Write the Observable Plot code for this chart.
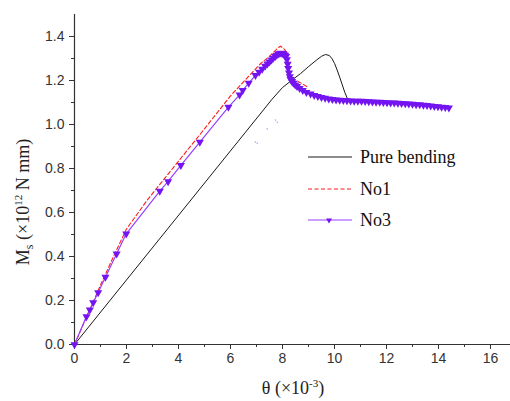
<!DOCTYPE html>
<html>
<head>
<meta charset="utf-8">
<script src="https://cdn.jsdelivr.net/npm/d3@7"></script>
<script src="https://cdn.jsdelivr.net/npm/@observablehq/plot@0.6"></script>
<style>
  html, body { margin: 0; padding: 0; background: #fff; }
  #chart svg { display: block; }
  #chart svg text.serif { font-family: "Liberation Serif", "Times New Roman", serif !important; }
</style>
</head>
<body>
<div id="chart"></div>
<script>
// ---- Data ----
const seriesNames = ["Pure bending", "No1", "No3"];

const pureTheta = [0, 7.6, 8.0, 8.4, 8.7, 9.0, 9.3, 9.5, 9.65, 9.8, 9.9, 10.0, 10.1, 10.2, 10.3, 10.4, 10.5, 10.7];
const pureM     = [0, 1.115, 1.168, 1.205, 1.232, 1.263, 1.292, 1.31, 1.318, 1.314, 1.3, 1.278, 1.248, 1.215, 1.18, 1.145, 1.117, 1.108];

const no1Theta = [0, 0.5, 1.0, 1.5, 2.0, 2.79, 3.5, 4.85, 6.0, 7.15, 7.5, 7.8, 7.92, 8.05, 8.15, 8.2, 8.25, 8.31, 8.4, 8.5, 8.76, 9.0];
const no1M     = [0, 0.135, 0.27, 0.4, 0.525, 0.655, 0.76, 0.958, 1.13, 1.276, 1.31, 1.345, 1.356, 1.345, 1.33, 1.3, 1.24, 1.207, 1.204, 1.203, 1.185, 1.168];

const no3Theta = [0, 0.46, 0.59, 0.72, 0.91, 1.19, 1.62, 1.99, 3.28, 3.6, 4.09, 4.82, 5.92,
  6.35, 6.47, 6.7, 6.96, 7.1, 7.22, 7.33, 7.42, 7.5, 7.58, 7.65, 7.72, 7.78, 7.84, 7.9, 7.95,
  8.0, 8.05, 8.1, 8.14, 8.17, 8.2, 8.22, 8.25, 8.28, 8.31, 8.36, 8.42, 8.49, 8.56, 8.66, 8.78, 8.92, 9.08,
  9.22, 9.36, 9.5, 9.64, 9.78, 9.92, 10.06, 10.2, 10.34, 10.48, 10.62, 10.76, 10.9, 11.04, 11.18, 11.32,
  11.46, 11.6, 11.74, 11.88, 12.02, 12.16, 12.3, 12.44, 12.58, 12.72, 12.86, 13.0, 13.14, 13.28, 13.42,
  13.56, 13.7, 13.84, 13.98, 14.12, 14.26, 14.4];
const no3M = [0, 0.127, 0.158, 0.19, 0.236, 0.306, 0.412, 0.503, 0.697, 0.741, 0.814, 0.92, 1.079,
  1.135, 1.155, 1.188, 1.223, 1.238, 1.252, 1.265, 1.276, 1.285, 1.294, 1.302, 1.31, 1.316, 1.321, 1.324, 1.325,
  1.323, 1.32, 1.316, 1.31, 1.295, 1.275, 1.255, 1.235, 1.218, 1.205, 1.196, 1.188, 1.18, 1.173, 1.164, 1.155, 1.146, 1.139,
  1.133, 1.128, 1.124, 1.12, 1.117, 1.114, 1.112, 1.111, 1.11, 1.109, 1.108, 1.107, 1.106, 1.106, 1.105, 1.104,
  1.103, 1.102, 1.102, 1.101, 1.1, 1.099, 1.098, 1.097, 1.096, 1.095, 1.094, 1.093, 1.091, 1.09, 1.088,
  1.087, 1.085, 1.083, 1.081, 1.079, 1.078, 1.076];

// stray faint points visible in the reference
const strayTheta = [6.96, 7.03, 7.41, 7.73, 7.8];
const strayM     = [0.92, 0.915, 0.98, 1.02, 1.01];

const xMajorTicks = [0, 2, 4, 6, 8, 10, 12, 14, 16];
const xMinorTicks = [1, 3, 5, 7, 9, 11, 13, 15];
const yMajorTicks = [0, 0.2, 0.4, 0.6, 0.8, 1.0, 1.2, 1.4];
const yMinorTicks = [0.1, 0.3, 0.5, 0.7, 0.9, 1.1, 1.3];

// ---- build tables ----
const zip = (xs, ys) => xs.slice(0, Math.min(xs.length, ys.length)).map((t, i) => ({theta: t, m: ys[i]}));
const pure = zip(pureTheta, pureM);
const no1 = zip(no1Theta, no1M);
const no3 = zip(no3Theta, no3M);
const stray = zip(strayTheta, strayM);

const colBlack = "#1a1a1a";
const colRed = "#ff1a1a";
const colPurpleLine = "#9640ff";
const colPurpleMark = "#7414f0";

const plot = Plot.plot({
  width: 510,
  height: 401,
  marginLeft: 74,
  marginRight: 0,
  marginTop: 14,
  marginBottom: 57,
  style: {fontFamily: "'Liberation Sans', Arial, sans-serif", fontSize: "14px", color: "#333", background: "#fff"},
  x: {domain: [0, 16.77], label: null},
  y: {domain: [0, 1.5], label: null},
  marks: [
    Plot.ruleX([0], {stroke: "#333", strokeWidth: 1.2}),
    Plot.ruleY([0], {stroke: "#333", strokeWidth: 1.2}),
    Plot.axisX({ticks: xMajorTicks, tickSize: 5, tickPadding: 4, tickFormat: d3.format("d"), label: null, stroke: "#333"}),
    Plot.axisX({ticks: xMinorTicks, tickSize: 3, tickFormat: () => "", label: null, stroke: "#333"}),
    Plot.axisY({ticks: yMajorTicks, tickSize: 5, tickPadding: 5, tickFormat: d3.format(".1f"), label: null, stroke: "#333"}),
    Plot.axisY({ticks: yMinorTicks, tickSize: 3, tickFormat: () => "", label: null, stroke: "#333"}),
    Plot.dot(stray, {x: "theta", y: "m", r: 0.8, fill: "#b9a0ff", stroke: null}),
    Plot.line(pure, {x: "theta", y: "m", stroke: colBlack, strokeWidth: 1}),
    Plot.line(no1, {x: "theta", y: "m", stroke: colRed, strokeWidth: 1.1, strokeDasharray: "4,2.5"}),
    Plot.line(no3, {x: "theta", y: "m", stroke: colPurpleLine, strokeWidth: 1.2}),
    Plot.dot(no3, {x: "theta", y: "m", symbol: "triangle", r: 3, fill: colPurpleMark, stroke: null, rotate: 180})
  ]
});

document.getElementById("chart").appendChild(plot);

// ---- axis titles and legend (layout only) ----
const svg = d3.select(plot);
const serif = "'Liberation Serif', 'Times New Roman', serif";

// y-axis title
const yl = svg.append("text").attr("class", "serif")
  .attr("transform", "translate(29,202) rotate(-90)")
  .style("text-anchor", "middle")
  .style("font-family", serif).style("font-size", "18px").attr("fill", "#222");
yl.append("tspan").text("M");
yl.append("tspan").style("font-size", "12px").attr("dy", 4).text("s");
yl.append("tspan").attr("dy", -4).text(" (×10");
yl.append("tspan").style("font-size", "11px").attr("dy", -7).text("12");
yl.append("tspan").attr("dy", 7).text(" N mm)");

// x-axis title
const xl = svg.append("text").attr("class", "serif")
  .attr("x", 293).attr("y", 394)
  .style("text-anchor", "middle")
  .style("font-family", serif).style("font-size", "18px").attr("fill", "#222");
xl.append("tspan").text("θ (×10");
xl.append("tspan").style("font-size", "11px").attr("dy", -7).text("-3");
xl.append("tspan").attr("dy", 7).text(")");

// legend
const lg = svg.append("g");
const legendRows = [
  {name: seriesNames[0], y: 157, stroke: colBlack, dash: null, marker: false},
  {name: seriesNames[1], y: 189, stroke: colRed, dash: "4,2.5", marker: false},
  {name: seriesNames[2], y: 220, stroke: colPurpleLine, dash: null, marker: true}
];
legendRows.forEach(r => {
  lg.append("line").attr("x1", 308).attr("x2", 352).attr("y1", r.y).attr("y2", r.y)
    .attr("stroke", r.stroke).attr("stroke-width", 1.1)
    .attr("stroke-dasharray", r.dash);
  if (r.marker) {
    lg.append("path").attr("d", "M326,218.5 L332,218.5 L329,223.5 Z").attr("fill", colPurpleMark);
  }
  lg.append("text").attr("class", "serif").attr("x", 360).attr("y", r.y + 6)
    .style("text-anchor", "start")
    .style("font-family", serif).style("font-size", "18px").attr("fill", "#111")
    .text(r.name);
});
</script>
</body>
</html>
